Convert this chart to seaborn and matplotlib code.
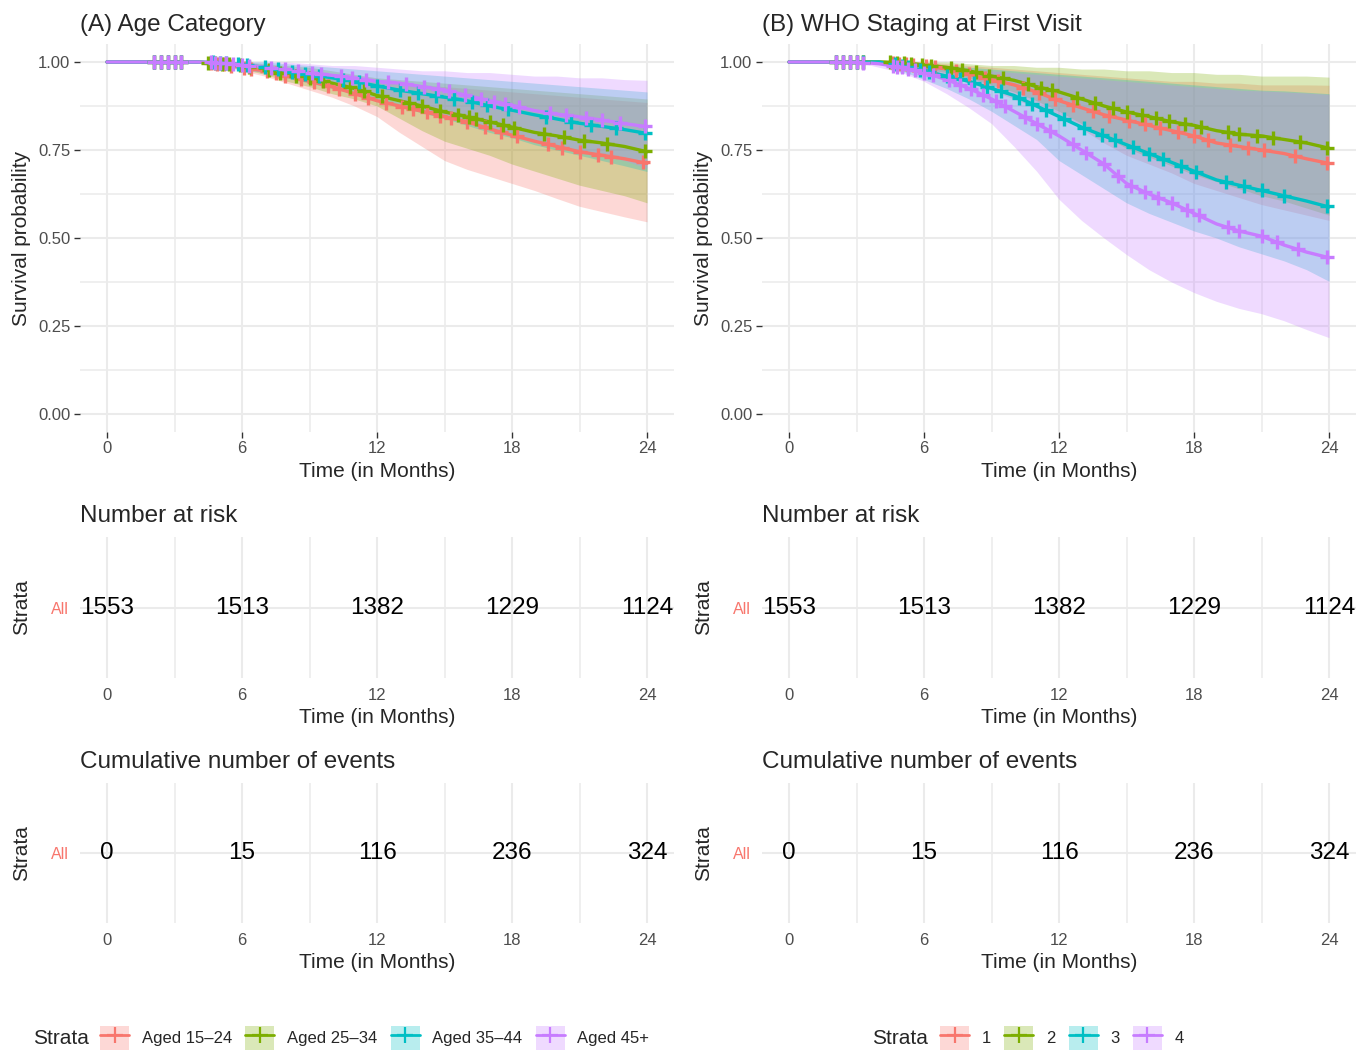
import numpy as np
import pandas as pd
import seaborn as sns
import matplotlib.pyplot as plt
from matplotlib.patches import Patch
from matplotlib.lines import Line2D
from matplotlib.ticker import FixedLocator

# ---- data ----
months = list(range(25))
strata_colors = ['#F8766D', '#7CAE00', '#00BFC4', '#C77CFF']

age_labels = ['Aged 15–24', 'Aged 25–34', 'Aged 35–44', 'Aged 45+']
age_surv = [
    [1, 1, 1, 1, 1, .995, .985, .975, .96, .945, .93, .91, .89, .875, .86, .845, .83, .81, .792, .775, .76, .745, .735, .725, .712],
    [1, 1, 1, 1, 1, .995, .99, .98, .965, .955, .94, .925, .905, .89, .875, .858, .845, .83, .815, .80, .79, .778, .77, .76, .745],
    [1, 1, 1, 1, 1, .998, .992, .985, .975, .965, .955, .945, .932, .92, .91, .90, .89, .875, .863, .85, .838, .826, .817, .808, .797],
    [1, 1, 1, 1, 1, .998, .992, .985, .978, .97, .962, .955, .945, .94, .93, .92, .905, .89, .877, .862, .852, .844, .835, .825, .816],
]
age_lower = [
    [1, 1, 1, 1, 1, .99, .975, .96, .94, .92, .90, .875, .845, .80, .76, .72, .695, .675, .655, .635, .612, .59, .575, .56, .546],
    [1, 1, 1, 1, 1, .99, .98, .965, .945, .93, .91, .895, .875, .84, .805, .775, .755, .735, .71, .69, .67, .65, .635, .62, .60],
    [1, 1, 1, 1, 1, .99, .98, .97, .955, .94, .925, .91, .895, .875, .855, .84, .82, .80, .785, .765, .75, .735, .72, .705, .689],
    [1, 1, 1, 1, 1, .99, .98, .97, .96, .95, .935, .92, .905, .885, .865, .85, .835, .815, .80, .78, .765, .75, .735, .72, .698],
]
age_upper = [
    [1, 1, 1, 1, 1, 1, .995, .99, .985, .975, .965, .955, .945, .94, .935, .93, .925, .92, .915, .91, .905, .90, .895, .89, .885],
    [1, 1, 1, 1, 1, 1, 1, .995, .99, .985, .975, .965, .955, .95, .945, .94, .935, .93, .925, .92, .915, .91, .905, .90, .895],
    [1, 1, 1, 1, 1, 1, 1, 1, .995, .99, .985, .98, .975, .97, .965, .96, .955, .95, .945, .94, .935, .93, .925, .92, .915],
    [1, 1, 1, 1, 1, 1, 1, 1, 1, .995, .99, .99, .985, .98, .975, .975, .97, .97, .965, .96, .96, .955, .955, .95, .948],
]
age_censor = [
    [2.1, 2.4, 2.7, 3.0, 3.3, 4.6, 4.9, 5.2, 5.5, 6.1, 6.4, 7.1, 7.5, 7.9, 8.6, 9.2, 9.8, 10.3, 11.0, 11.6, 12.4, 13.1, 13.6, 14.2, 14.8, 15.3, 16.0, 16.8, 17.5, 18.2, 19.6, 20.2, 21.0, 21.8, 22.4, 23.8],
    [2.1, 2.4, 2.7, 3.0, 3.3, 4.5, 4.8, 5.1, 5.4, 5.9, 6.3, 7.2, 7.7, 8.4, 9.0, 9.6, 10.8, 11.4, 12.2, 13.4, 14.0, 14.8, 15.6, 16.1, 16.4, 17.0, 17.6, 18.1, 19.4, 20.3, 21.2, 22.2, 23.9],
    [2.1, 2.4, 2.7, 3.0, 3.3, 4.7, 5.0, 5.3, 5.8, 6.2, 7.0, 7.6, 8.2, 8.8, 9.4, 10.5, 11.2, 12.0, 13.0, 13.8, 14.6, 15.4, 16.2, 16.9, 17.8, 19.5, 20.6, 21.5, 22.6, 23.9],
    [2.1, 2.4, 2.7, 3.0, 3.3, 4.6, 4.8, 5.0, 5.3, 5.6, 6.0, 6.3, 7.3, 7.9, 8.5, 9.1, 9.5, 10.4, 10.9, 11.5, 12.5, 13.3, 14.1, 14.7, 15.2, 15.9, 16.6, 17.2, 17.7, 18.3, 19.7, 20.4, 21.3, 22.0, 22.8, 23.9],
]

who_labels = ['1', '2', '3', '4']
who_surv = [
    [1, 1, 1, 1, 1, .995, .99, .98, .965, .95, .935, .915, .89, .87, .85, .835, .82, .805, .79, .77, .76, .75, .74, .725, .712],
    [1, 1, 1, 1, 1, .998, .992, .985, .975, .96, .948, .93, .915, .895, .875, .858, .845, .83, .82, .805, .795, .79, .78, .77, .755],
    [1, 1, 1, 1, 1, .99, .975, .96, .945, .925, .905, .875, .845, .815, .79, .765, .74, .715, .69, .665, .65, .635, .62, .605, .588],
    [1, 1, 1, 1, .995, .985, .97, .95, .925, .895, .86, .825, .79, .75, .71, .655, .625, .60, .57, .54, .52, .505, .48, .46, .444],
]
who_lower = [
    [1, 1, 1, 1, 1, .985, .975, .96, .94, .92, .895, .87, .85, .81, .77, .735, .71, .685, .655, .635, .615, .595, .58, .565, .55],
    [1, 1, 1, 1, 1, .99, .98, .97, .955, .935, .915, .89, .86, .825, .79, .755, .73, .705, .68, .66, .64, .62, .605, .585, .565],
    [1, 1, 1, 1, 1, .975, .95, .925, .895, .86, .82, .78, .72, .68, .64, .60, .57, .545, .52, .50, .475, .455, .435, .41, .377],
    [1, 1, 1, 1, .985, .97, .945, .91, .87, .825, .76, .69, .61, .55, .50, .453, .41, .375, .345, .32, .30, .285, .265, .24, .217],
]
who_upper = [
    [1, 1, 1, 1, 1, 1, 1, .995, .99, .985, .98, .975, .97, .965, .96, .955, .95, .945, .945, .94, .94, .935, .935, .935, .934],
    [1, 1, 1, 1, 1, 1, 1, 1, .995, .99, .99, .985, .985, .98, .98, .975, .975, .97, .97, .965, .965, .96, .96, .96, .957],
    [1, 1, 1, 1, 1, 1, .995, .99, .985, .98, .975, .97, .965, .96, .955, .95, .945, .94, .935, .93, .925, .92, .918, .914, .91],
    [1, 1, 1, 1, 1, .995, .99, .985, .98, .975, .97, .965, .96, .955, .95, .945, .94, .935, .93, .925, .92, .918, .915, .912, .908],
]
who_censor = [
    [2.1, 2.4, 2.7, 3.0, 3.3, 4.6, 4.9, 5.2, 5.5, 6.1, 6.5, 7.4, 8.0, 8.7, 9.3, 10.4, 11.1, 11.8, 12.6, 13.5, 14.2, 15.1, 15.8, 16.5, 17.3, 18.0, 18.6, 19.6, 20.4, 21.1, 22.5, 23.9],
    [2.1, 2.4, 2.7, 3.0, 3.3, 4.5, 4.8, 5.1, 5.4, 5.9, 6.3, 7.2, 7.7, 8.3, 8.9, 9.5, 10.6, 11.2, 11.7, 12.8, 13.6, 14.4, 15.0, 15.7, 16.3, 16.9, 17.6, 18.3, 19.5, 20.0, 20.8, 21.5, 22.7, 23.9],
    [2.1, 2.4, 2.7, 3.0, 3.3, 4.7, 5.0, 5.3, 5.8, 6.2, 7.0, 7.6, 8.2, 8.8, 9.4, 10.2, 10.8, 11.4, 12.2, 13.1, 13.9, 14.5, 15.3, 16.0, 16.6, 17.4, 18.1, 19.4, 20.2, 21.0, 22.0, 23.9],
    [2.1, 2.4, 2.7, 3.0, 3.3, 4.6, 4.8, 5.0, 5.3, 5.6, 6.0, 6.4, 7.1, 7.6, 8.1, 8.6, 9.2, 9.6, 10.5, 11.0, 11.6, 12.6, 13.2, 14.0, 14.6, 15.2, 15.8, 16.4, 17.0, 17.7, 18.2, 19.5, 20.0, 21.0, 21.7, 22.6, 23.9],
]

table_months = [0, 6, 12, 18, 24]
n_at_risk = [1553, 1513, 1382, 1229, 1124]
cum_events = [0, 15, 116, 236, 324]

# ---- styling ----
sns.set_theme(style='white')
plt.rcParams['font.family'] = ['Liberation Sans', 'DejaVu Sans']

W, H = 1370, 1053
fig = plt.figure(figsize=(W / 100, H / 100), dpi=100)
GRID = '#EBEBEB'
BAND_ALPHA = 0.28


def add_px_axes(left, top, right, bottom):
    return fig.add_axes([left / W, 1 - bottom / H, (right - left) / W, (bottom - top) / H])


def base_style(ax):
    for s in ax.spines.values():
        s.set_visible(False)
    ax.set_xlim(-1.2, 25.2)
    ax.set_xticks(table_months)
    ax.xaxis.set_minor_locator(FixedLocator([3, 9, 15, 21]))
    ax.grid(which='major', axis='x', color=GRID, lw=1.5)
    ax.grid(which='minor', axis='x', color=GRID, lw=1.1)
    ax.set_axisbelow(True)


def km_panel(ax, surv, lower, upper, censor, names, title):
    base_style(ax)
    ax.set_ylim(-0.05, 1.05)
    ax.set_yticks([0, .25, .5, .75, 1])
    ax.set_yticklabels(['0.00', '0.25', '0.50', '0.75', '1.00'])
    ax.yaxis.set_minor_locator(FixedLocator([.125, .375, .625, .875]))
    ax.grid(which='major', axis='y', color=GRID, lw=1.5)
    ax.grid(which='minor', axis='y', color=GRID, lw=1.1)
    ax.tick_params(axis='both', which='major', length=4, width=1, color='#333333',
                   labelcolor='#4D4D4D', labelsize=12, pad=3, left=True, bottom=True)
    ax.tick_params(which='minor', length=0)

    for i in range(4):
        ax.fill_between(months, lower[i], upper[i], color=strata_colors[i],
                        alpha=BAND_ALPHA, lw=0)
    df = pd.DataFrame({
        'time': np.tile(months, 4),
        'surv': np.concatenate(surv),
        'strata': np.repeat(names, len(months)),
    })
    sns.lineplot(data=df, x='time', y='surv', hue='strata', hue_order=names,
                 palette=strata_colors, estimator=None, lw=2.4, legend=False, ax=ax)
    for i in range(4):
        ax.plot(censor[i], np.interp(censor[i], months, surv[i]), ls='none', marker='+',
                ms=10, mew=2.4, color=strata_colors[i])

    ax.set_xlabel('Time (in Months)', fontsize=15, labelpad=4)
    ax.set_ylabel('Survival probability', fontsize=15)
    ax.yaxis.set_label_coords(-0.082, 0.5)
    ax.set_title(title, loc='left', fontsize=17.5, pad=10)


def table_panel(ax, values, title):
    base_style(ax)
    ax.set_ylim(-1, 1)
    ax.set_yticks([0])
    ax.set_yticklabels(['All'])
    ax.grid(which='major', axis='y', color=GRID, lw=1.5)
    ax.tick_params(axis='both', which='both', length=0)
    ax.tick_params(axis='x', labelcolor='#4D4D4D', labelsize=12, pad=7)
    ax.tick_params(axis='y', labelcolor='#F8766D', labelsize=11.5, pad=8)
    for m, v in zip(table_months, values):
        ax.text(m, 0, str(v), ha='center', va='center', fontsize=17.5, color='black')
    ax.set_xlabel('Time (in Months)', fontsize=15, labelpad=4)
    ax.set_ylabel('Strata', fontsize=15)
    ax.yaxis.set_label_coords(-0.082, 0.5)
    ax.set_title(title, loc='left', fontsize=17.5, pad=11)


panels = [
    (80, 674, age_surv, age_lower, age_upper, age_censor, age_labels, '(A) Age Category'),
    (762, 1356, who_surv, who_lower, who_upper, who_censor, who_labels, '(B) WHO Staging at First Visit'),
]
for left, right, surv, lower, upper, censor, names, title in panels:
    km_panel(add_px_axes(left, 44.4, right, 431.6), surv, lower, upper, censor, names, title)
    table_panel(add_px_axes(left, 537, right, 678), n_at_risk, 'Number at risk')
    table_panel(add_px_axes(left, 783, right, 923), cum_events, 'Cumulative number of events')

# legends
for names, x_title, x_leg in [(age_labels, 33, 100), (who_labels, 872, 940)]:
    handles = [(Patch(facecolor=c, alpha=BAND_ALPHA, lw=0),
                Line2D([], [], color=c, lw=2, marker='+', ms=12, mew=1.6))
               for c in strata_colors]
    fig.text(x_title / W, 1 - 1038 / H, 'Strata', fontsize=15, ha='left', va='center')
    fig.legend(handles, names, loc='center left', bbox_to_anchor=(x_leg / W, 1 - 1038 / H),
               ncol=4, frameon=False, fontsize=12, handlelength=1.75, handleheight=1.8,
               handletextpad=0.75, columnspacing=0.8, borderpad=0, borderaxespad=0)

fig.savefig('out.png', dpi=100)
